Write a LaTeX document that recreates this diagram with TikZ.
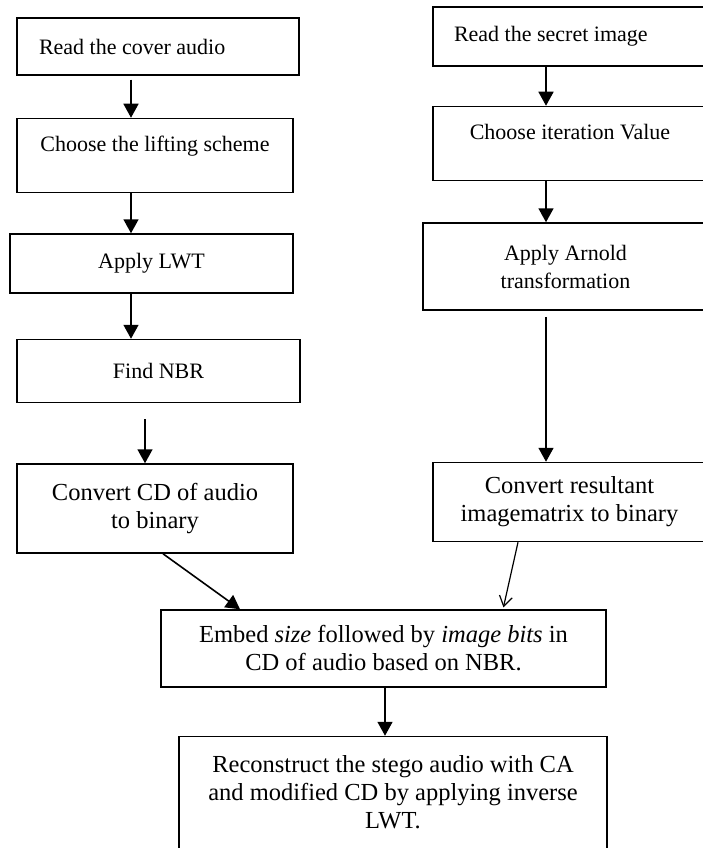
\documentclass[tikz,border=0pt]{standalone}
\usepackage{fontspec}
\setmainfont{Liberation Serif}
\usetikzlibrary{positioning,arrows.meta}

\begin{document}
\begin{tikzpicture}[x=1pt, y=-1pt]
  \tikzset{
    stage/.style={draw, rectangle, line width=1.5pt, align=center, inner sep=4pt, font=\fontsize{22}{28}\selectfont},
    bigstage/.style={stage, font=\fontsize{24.5}{28}\selectfont},
    flow/.style={-{Triangle[width=15pt,length=14pt]}, line width=1.6pt},
    thinflow/.style={-{Straight Barb[width=13pt,length=10pt]}, line width=1.2pt}
  }
  \clip (0,0) rectangle (703,848);

  % cover audio side
  \node[stage, minimum width=282pt, minimum height=57pt, text width=238pt, align=flush left] (cover) at (158,46.5) {Read the cover audio};
  \node[stage, minimum width=276pt, minimum height=74pt, text depth=23pt, below=42pt of cover, xshift=-3pt] (lifting) {Choose the lifting scheme};
  \node[stage, minimum width=283pt, minimum height=59pt, below=40pt of lifting, xshift=-3.5pt] (lwt) {Apply LWT};
  \node[stage, minimum width=283pt, minimum height=63pt, below=45pt of lwt, xshift=7pt] (nbr) {Find NBR};
  \node[bigstage, minimum width=276pt, minimum height=89pt, below=60pt of nbr, xshift=-3.5pt] (cdbin) {Convert CD of audio\\to binary};

  % secret image side
  \node[stage, minimum width=277pt, minimum height=59pt, text width=235pt, align=flush left] (secret) at (571.5,36.5) {Read the secret image};
  \node[stage, minimum width=274pt, minimum height=74pt, text depth=23pt, below=39pt of secret, xshift=-1.5pt] (iter) {Choose iteration Value};
  \node[stage, minimum width=285pt, minimum height=87pt, below=41pt of iter, xshift=-4.5pt] (arnold) {Apply Arnold\\transformation};
  \node[bigstage, minimum width=273pt, minimum height=79pt, below=151pt of arnold, xshift=4pt] (imgbin) {Convert resultant\\imagematrix to binary};

  % embedding
  \node[bigstage, minimum width=445pt, minimum height=77pt] (embed) at (383.5,648.5) {Embed \textit{size} followed by \textit{image bits} in\\CD of audio based on NBR.};
  \node[bigstage, minimum width=428pt, minimum height=112pt, below=48pt of embed, xshift=9.5pt] (recon) {Reconstruct the stego audio with CA\\and modified CD by applying inverse\\LWT.};

  \draw[flow, shorten <=4pt] ([xshift=-27pt]cover.south) -- ([xshift=-27pt]cover.south |- lifting.north);
  \draw[flow] ([xshift=-24pt]lifting.south) -- ([xshift=-24pt]lifting.south |- lwt.north);
  \draw[flow] ([xshift=-20.5pt]lwt.south) -- ([xshift=-20.5pt]lwt.south |- nbr.north);
  \draw[flow, shorten <=16pt] ([xshift=-13.5pt]nbr.south) -- ([xshift=-13.5pt]nbr.south |- cdbin.north);
  \draw[flow] ([xshift=8pt]cdbin.south) -- ([xshift=-143.5pt]embed.north);

  \draw[flow] ([xshift=-25.5pt]secret.south) -- ([xshift=-25.5pt]secret.south |- iter.north);
  \draw[flow] ([xshift=-24pt]iter.south) -- ([xshift=-24pt]iter.south |- arnold.north);
  \draw[flow, shorten <=6pt] ([xshift=-19.5pt]arnold.south) -- ([xshift=-19.5pt]arnold.south |- imgbin.north);
  \draw[thinflow, shorten >=2pt] ([xshift=-51.5pt]imgbin.south) -- ([xshift=119.5pt]embed.north);

  \draw[flow] ([xshift=1.5pt]embed.south) -- ([xshift=1.5pt]embed.south |- recon.north);
\end{tikzpicture}
\end{document}
